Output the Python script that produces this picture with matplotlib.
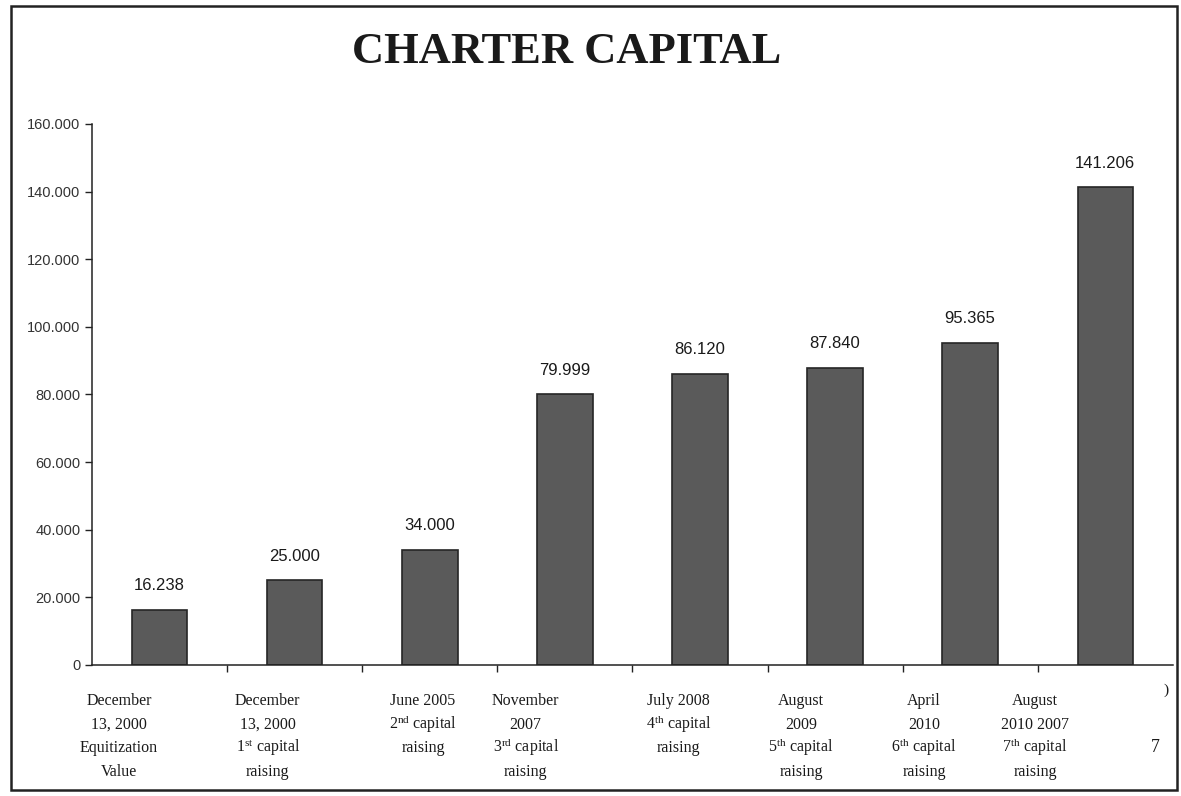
import numpy as np
import matplotlib
matplotlib.use("Agg")
import matplotlib.pyplot as plt
import matplotlib.transforms as mtransforms
from matplotlib.patches import Rectangle

plt.rcParams['mathtext.fontset'] = 'custom'
plt.rcParams['mathtext.rm'] = 'Liberation Serif'
plt.rcParams['mathtext.it'] = 'Liberation Serif:italic'
plt.rcParams['mathtext.bf'] = 'Liberation Serif:bold'

# Charter capital after each raising
labels = [
    "December\n13, 2000\nEquitization\nValue",
    "December\n13, 2000\n1$^{\\rm st}$ capital\nraising",
    "June 2005\n2$^{\\rm nd}$ capital\nraising",
    "November\n2007\n3$^{\\rm rd}$ capital\nraising",
    "July 2008\n4$^{\\rm th}$ capital\nraising",
    "August\n2009\n5$^{\\rm th}$ capital\nraising",
    "April\n2010\n6$^{\\rm th}$ capital\nraising",
    "August\n2010 2007\n7$^{\\rm th}$ capital\nraising",
]
capital = [16238, 25000, 34000, 79999, 86120, 87840, 95365, 141206]
label_shift = [-0.30, -0.20, -0.05, -0.29, -0.16, -0.25, -0.34, -0.52]
yticks = [0, 20000, 40000, 60000, 80000, 100000, 120000, 140000, 160000]


def dotted(v):
    return f"{v:,}".replace(",", ".")


fig = plt.figure(figsize=(11.81, 7.96), dpi=100)
ax = fig.add_axes([0.078, 0.1646, 0.915, 0.6797])

x = np.arange(len(capital))
bars = ax.bar(x, capital, width=0.41, color="#5a5a5a", edgecolor="#262626", linewidth=1.2)

for b, v in zip(bars, capital):
    ax.annotate(dotted(v), (b.get_x() + b.get_width() / 2, v),
                xytext=(0, 12), textcoords="offset points",
                ha="center", va="bottom", fontsize=12,
                family="Liberation Sans", color="#1a1a1a")

ax.set_xlim(-0.5, len(capital) - 0.5)
ax.set_ylim(0, 160000)
ax.set_yticks(yticks)
ax.set_yticklabels([dotted(t) if t else "0" for t in yticks],
                   family="Liberation Sans", fontsize=10.5, color="#333333")
ax.set_xticks(np.arange(0.5, len(capital) - 1, 1))
ax.set_xticklabels([])
ax.tick_params(axis="both", direction="out", length=5, width=1, colors="#222222")
ax.tick_params(axis="y", labelcolor="#333333")

for side in ["top", "right"]:
    ax.spines[side].set_visible(False)
for side in ["left", "bottom"]:
    ax.spines[side].set_linewidth(1.1)
    ax.spines[side].set_color("#222222")

# category captions under the axis, one line at a time so the
# superscript lines keep the same spacing as the plain ones
trans = mtransforms.blended_transform_factory(ax.transData, ax.transAxes)
for i, (lab, s) in enumerate(zip(labels, label_shift)):
    for k, line in enumerate(lab.split("\n")):
        ax.annotate(line, (i + s, -0.074), xycoords=trans,
                    xytext=(0, -17 * k), textcoords="offset points",
                    ha="center", va="baseline", fontsize=11.5,
                    family="Liberation Serif", color="#1a1a1a",
                    annotation_clip=False)

fig.text(0.48, 0.935, "CHARTER CAPITAL", ha="center", va="center",
         fontsize=32, fontweight="bold", family="Liberation Serif", color="#1a1a1a")

fig.text(0.987, 0.133, ")", ha="center", va="center", fontsize=11,
         family="Liberation Serif", color="#1a1a1a")
fig.text(0.978, 0.061, "7", ha="center", va="center", fontsize=13,
         family="Liberation Serif", color="#1a1a1a")

# page frame
fig.patches.append(Rectangle((0.009, 0.008), 0.988, 0.985, transform=fig.transFigure,
                             fill=False, edgecolor="#222222", linewidth=1.8))

fig.savefig("out.png", dpi=100)
